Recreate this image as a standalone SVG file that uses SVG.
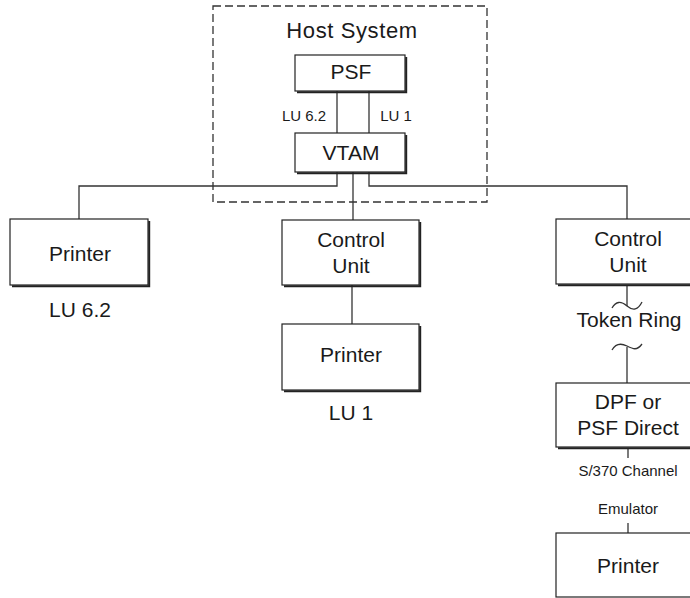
<svg xmlns="http://www.w3.org/2000/svg" width="690" height="598" viewBox="0 0 690 598">
<style>
  .box { fill: #fff; stroke: #222; stroke-width: 1.2; }
  .shadow { fill: none; stroke: #222; stroke-width: 2; }
  .ln { fill: none; stroke: #333; stroke-width: 1.3; }
  .dash { fill: none; stroke: #333; stroke-width: 1.3; stroke-dasharray: 8 4; }
  text { font-family: "Liberation Sans", Arial, sans-serif; fill: #1a1a1a; text-anchor: middle; }
  .big { font-size: 21px; }
  .title { font-size: 22px; letter-spacing: 0.6px; }
  .small { font-size: 15px; }
</style>
<rect width="690" height="598" fill="#fff"/>

<g id="host-system">
  <rect class="dash" x="213" y="6" width="274" height="196"/>
  <text class="title" x="352" y="38">Host System</text>
</g>

<g id="connectors">
  <line class="ln" x1="337" y1="91" x2="337" y2="133"/>
  <line class="ln" x1="369" y1="91" x2="369" y2="133"/>
  <polyline class="ln" points="337,172 337,186 79,186 79,219"/>
  <polyline class="ln" points="369,172 369,186 627,186 627,219"/>
  <line class="ln" x1="353" y1="172" x2="353" y2="220"/>
  <line class="ln" x1="352" y1="285" x2="352" y2="324"/>
  <line class="ln" x1="627" y1="285" x2="627" y2="306"/>
  <path class="ln" d="M612,308 C616,301 621,301 627,306 S638,310 642,302"/>
  <path class="ln" d="M612,350 C616,343 621,343 627,346 S637,351 642,344"/>
  <line class="ln" x1="627" y1="347" x2="627" y2="383"/>
  <line class="ln" x1="628" y1="449" x2="628" y2="458"/>
  <line class="ln" x1="628" y1="523" x2="628" y2="533"/>
</g>

<g id="psf">
  <rect class="box" x="295" y="55" width="110" height="36"/>
  <polyline class="shadow" points="297,92.2 406.2,92.2 406.2,57"/>
  <text class="big" x="351" y="79">PSF</text>
</g>

<g id="lu-labels">
  <text class="small" x="304" y="121">LU 6.2</text>
  <text class="small" x="396" y="121">LU 1</text>
</g>

<g id="vtam">
  <rect class="box" x="295" y="133" width="110" height="39"/>
  <polyline class="shadow" points="297,173.2 406.2,173.2 406.2,135"/>
  <text class="big" x="351" y="160">VTAM</text>
</g>

<g id="printer-lu62">
  <rect class="box" x="10" y="219" width="138" height="66"/>
  <polyline class="shadow" points="12,286.2 149.2,286.2 149.2,221"/>
  <text class="big" x="80" y="261">Printer</text>
  <text class="big" x="80" y="317">LU 6.2</text>
</g>

<g id="control-unit-center">
  <rect class="box" x="282" y="220" width="137" height="65"/>
  <polyline class="shadow" points="284,286.2 420.2,286.2 420.2,222"/>
  <text class="big" x="351" y="247">Control</text>
  <text class="big" x="351" y="273">Unit</text>
</g>

<g id="printer-lu1">
  <rect class="box" x="282" y="324" width="137" height="66"/>
  <polyline class="shadow" points="284,391.2 420.2,391.2 420.2,326"/>
  <text class="big" x="351" y="362">Printer</text>
  <text class="big" x="351" y="420">LU 1</text>
</g>

<g id="control-unit-right">
  <rect class="box" x="556" y="219" width="137" height="65"/>
  <polyline class="shadow" points="558,285.2 694.2,285.2"/>
  <text class="big" x="628" y="246">Control</text>
  <text class="big" x="628" y="272">Unit</text>
</g>

<g id="token-ring">
  <text class="big" x="629" y="327">Token Ring</text>
</g>

<g id="dpf">
  <rect class="box" x="556" y="383" width="137" height="64"/>
  <polyline class="shadow" points="558,448.2 694.2,448.2"/>
  <text class="big" x="628" y="409">DPF or</text>
  <text class="big" x="628" y="435">PSF Direct</text>
</g>

<g id="channel-labels">
  <text class="small" x="628" y="476">S/370 Channel</text>
  <text class="small" x="628" y="514">Emulator</text>
</g>

<g id="printer-right">
  <rect class="box" x="556" y="533" width="137" height="64"/>
  <text class="big" x="628" y="573">Printer</text>
</g>
</svg>
